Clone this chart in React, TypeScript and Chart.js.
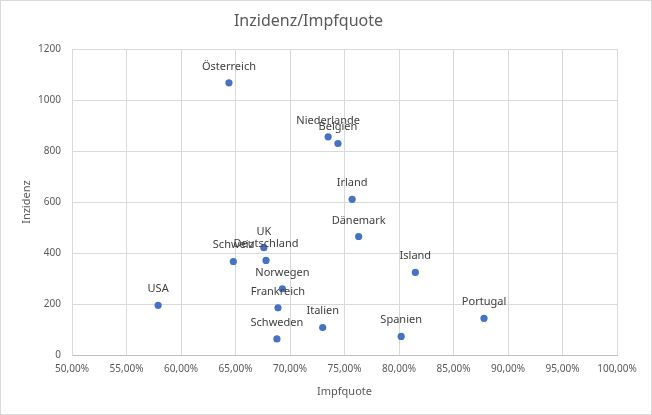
import React, { useEffect, useRef } from "react";
import { Chart, registerables } from "chart.js";

Chart.register(...registerables);

const countries = [
  "Österreich", "Niederlande", "Belgien", "Irland", "Dänemark", "UK", "Schweiz",
  "Deutschland", "Island", "Norwegen", "USA", "Frankreich", "Portugal", "Italien",
  "Spanien", "Schweden",
];
const impfquote = [64.4, 73.5, 74.4, 75.7, 76.3, 67.6, 64.8, 67.8, 81.5, 69.3, 57.9, 68.9, 87.8, 73.0, 80.2, 68.8];
const inzidenz = [1068, 856, 830, 611, 465, 421, 367, 371, 324, 260, 195, 185, 144, 108, 73, 63];

const FONT = '"Noto Sans", "DejaVu Sans", sans-serif';

const labelPlugin = {
  id: "pointLabels",
  afterDatasetsDraw(chart: any) {
    const meta = chart.getDatasetMeta(0);
    const ctx = chart.ctx;
    ctx.save();
    ctx.font = `11px ${FONT}`;
    ctx.fillStyle = "#404040";
    ctx.textAlign = "center";
    ctx.textBaseline = "alphabetic";
    meta.data.forEach((el: any, i: number) => {
      ctx.fillText(countries[i], el.x, el.y - 13);
    });
    ctx.restore();
  },
};

const borderPlugin = {
  id: "outerBorder",
  afterDraw(chart: any) {
    const ctx = chart.ctx;
    ctx.save();
    ctx.strokeStyle = "#d9d9d9";
    ctx.lineWidth = 1;
    ctx.strokeRect(0.5, 0.5, chart.width - 1, chart.height - 1);
    ctx.restore();
  },
};

export default function App() {
  const ref = useRef<HTMLCanvasElement>(null);

  useEffect(() => {
    if (!ref.current) return;
    const chart = new Chart(ref.current, {
      type: "scatter",
      data: {
        datasets: [
          {
            label: "Inzidenz",
            data: impfquote.map((x, i) => ({ x, y: inzidenz[i] })),
            backgroundColor: "#4472C4",
            borderColor: "#4472C4",
            pointRadius: 3.6,
            borderWidth: 0,
          },
        ],
      },
      options: {
        animation: false,
        responsive: false,
        devicePixelRatio: 1,
        layout: { padding: { left: 0, right: 35, top: 0, bottom: 0 } },
        plugins: {
          legend: { display: false },
          tooltip: { enabled: false },
          title: {
            display: true,
            text: "Inzidenz/Impfquote",
            color: "#595959",
            font: { family: FONT, size: 16, weight: "normal" },
            padding: { top: 12, bottom: 18 },
          },
        },
        scales: {
          x: {
            type: "linear",
            min: 50,
            max: 100,
            afterFit: (s: any) => {
              s.height = 60;
            },
            ticks: {
              stepSize: 5,
              autoSkip: false,
              maxRotation: 0,
              padding: 8,
              color: "#595959",
              font: { family: FONT, size: 10 },
              callback: (v: any) => Number(v).toFixed(2).replace(".", ",") + "%",
            },
            grid: { color: "#d9d9d9", drawTicks: false },
            border: { color: "#bfbfbf" },
            title: {
              display: true,
              text: "Impfquote",
              color: "#595959",
              font: { family: FONT, size: 11 },
              padding: { top: 0, bottom: 17 },
            },
          },
          y: {
            type: "linear",
            min: 0,
            max: 1200,
            afterFit: (s: any) => {
              s.width = 72;
            },
            ticks: {
              stepSize: 200,
              padding: 11,
              color: "#595959",
              font: { family: FONT, size: 10 },
              callback: (v: any) => String(v),
            },
            grid: { color: "#d9d9d9", drawTicks: false },
            border: { color: "#d9d9d9" },
            title: {
              display: true,
              text: "Inzidenz",
              color: "#595959",
              font: { family: FONT, size: 11 },
              padding: { top: 20, bottom: 0 },
            },
          },
        },
      },
      plugins: [labelPlugin, borderPlugin],
    });
    return () => chart.destroy();
  }, []);

  return (
    <div style={{ position: "fixed", left: 0, top: 0, width: 652, height: 415, background: "#fff" }}>
      <canvas ref={ref} width={652} height={415} style={{ width: 652, height: 415, display: "block" }} />
    </div>
  );
}
